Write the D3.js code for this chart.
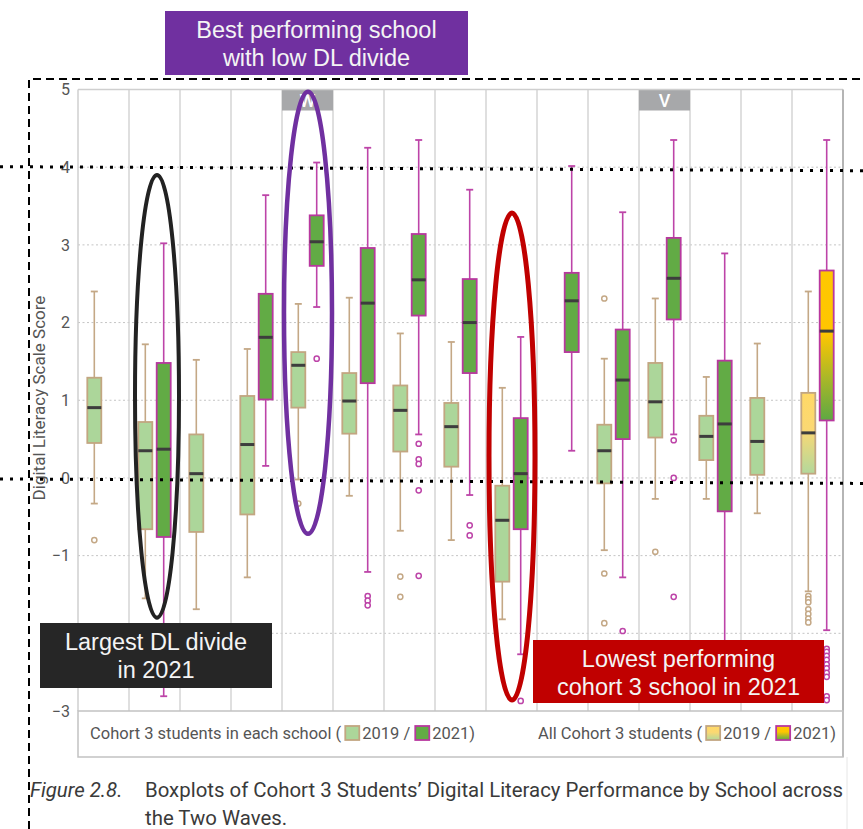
<!DOCTYPE html>
<html>
<head>
<meta charset="utf-8">
<script src="https://cdn.jsdelivr.net/npm/d3@7"></script>
<style>
  html, body { margin: 0; padding: 0; background: #fff; }
  svg { display: block; }
</style>
</head>
<body>
<svg id="chart" width="863" height="829"></svg>
<script>
// ---- Data -------------------------------------------------------------
// One column per school; the last column pools all cohort 3 students.
const schools = ["S01","S02","S03","S04","S05","S06","S07","S08","S09","S10","S11","S12","S13","S14","All"];
const headerLabels = ["","","","","W","","","","","","","V","","",""];
const years = ["2019","2021"];
const yTicks = [-3,-2,-1,0,1,2,3,4,5];

// Box summaries: [lower whisker, Q1, median, Q3, upper whisker]; null = no data
const stats2019 = [
  [-0.33, 0.45, 0.905, 1.29, 2.40],
  [-1.55, -0.66, 0.35, 0.72, 1.72],
  [-1.69, -0.695, 0.055, 0.56, 1.52],
  [-1.28, -0.47, 0.43, 1.055, 1.66],
  [-0.02, 0.905, 1.45, 1.62, 2.24],
  [-0.23, 0.57, 0.99, 1.35, 2.32],
  [-0.68, 0.34, 0.87, 1.19, 1.86],
  [-0.80, 0.145, 0.66, 0.965, 1.75],
  [-1.82, -1.335, -0.545, -0.10, 1.16],
  null,
  [-0.93, -0.07, 0.35, 0.685, 1.535],
  [-0.27, 0.52, 0.98, 1.48, 2.31],
  [-0.27, 0.23, 0.535, 0.80, 1.30],
  [-0.455, 0.04, 0.47, 1.03, 1.73],
  [-1.46, 0.055, 0.58, 1.095, 2.40]
];
const stats2021 = [
  null,
  [-2.81, -0.76, 0.37, 1.48, 3.02],
  null,
  [0.155, 1.01, 1.81, 2.37, 3.64],
  [2.20, 2.73, 3.04, 3.38, 4.06],
  [-1.21, 1.22, 2.25, 2.96, 4.25],
  [0.56, 2.09, 2.55, 3.14, 4.35],
  [-0.22, 1.35, 2.00, 2.56, 3.71],
  [-2.27, -0.66, 0.055, 0.77, 1.815],
  [0.35, 1.62, 2.28, 2.64, 4.015],
  [-1.28, 0.50, 1.26, 1.91, 3.42],
  [0.56, 2.04, 2.57, 3.09, 4.35],
  [-2.45, -0.43, 0.695, 1.51, 2.89],
  null,
  [-1.96, 0.74, 1.89, 2.67, 4.35]
];
const outliers2019 = [
  [-0.80], [], [], [], [-0.33], [], [-1.27, -1.53], [], [], [],
  [2.31, -1.23, -1.87], [-0.95], [], [],
  [-1.52, -1.56, -1.60, -1.69, -1.75, -1.81, -1.86]
];
const outliers2021 = [
  [], [], [], [], [1.535], [-1.52, -1.58, -1.64], [0.44, 0.24, 0.18, -0.16, -1.26],
  [-0.61, -0.74], [-2.87], [], [-1.97], [0.485, 0.0, -1.53], [], [],
  [-2.20, -2.24, -2.29, -2.34, -2.40, -2.45, -2.51, -2.56, -2.81, -2.86]
];

// Highlight rings (in data units) and callout boxes
const rings = [
  { school: "S02", top: 3.90, bottom: -1.80, rx: 22, dx: 2.5, color: "#222222", width: 4 },
  { school: "S05", top: 4.97, bottom: -0.72, rx: 24, dx: 0.5, color: "#7030a0", width: 4.5 },
  { school: "S09", top: 3.41, bottom: -2.86, rx: 23, dx: 0.5, color: "#c00000", width: 5 }
];
const callouts = [
  { x: 165, y: 11, w: 303, h: 64, fill: "#7030a0", lines: ["Best performing school", "with low DL divide"] },
  { x: 40, y: 623, w: 232, h: 65, fill: "#262626", lines: ["Largest DL divide", "in 2021"] },
  { x: 533, y: 640, w: 291, h: 63, fill: "#c00000", lines: ["Lowest performing", "cohort 3 school in 2021"] }
];

// ---- Layout & scales --------------------------------------------------
const svg = d3.select("#chart");
const plot = { left: 78, right: 843, top: 89.5, bottom: 711 };
const x0 = d3.scaleBand().domain(schools).range([plot.left, plot.right]);
const x1 = d3.scalePoint().domain(years).range([0, x0.bandwidth()]).padding(0.886);
const y = d3.scaleLinear().domain([-3, 5]).range([plot.bottom, plot.top]);
const boxW = 14, capW = 7;

const look = {
  "2019": { fill: "#acd69a", stroke: "#c2a681", whisker: "#c4a886" },
  "2021": { fill: "#62ab45", stroke: "#b8389f", whisker: "#bd44a8" }
};

// ---- Gradients for the pooled column ----------------------------------
const defs = svg.append("defs");
function gradient(id, stops) {
  const g = defs.append("linearGradient").attr("id", id)
    .attr("x1", 0).attr("y1", 0).attr("x2", 0).attr("y2", 1);
  stops.forEach(([o, c]) => g.append("stop").attr("offset", o).attr("stop-color", c));
}
gradient("all2019", [[0, "#ffd966"], [0.45, "#fbd873"], [1, "#b3d89c"]]);
gradient("all2021", [[0, "#ffc800"], [0.42, "#ffc600"], [0.72, "#a9b728"], [1, "#5ea843"]]);
const fillFor = (school, yr) => school === "All" ? `url(#all${yr})` : look[yr].fill;

// ---- Grid -------------------------------------------------------------
svg.append("g").selectAll("line")
  .data(yTicks.filter(t => t > -3 && t < 5))
  .join("line")
  .attr("x1", plot.left).attr("x2", plot.right)
  .attr("y1", d => y(d)).attr("y2", d => y(d))
  .attr("stroke", "#c4c4c4").attr("stroke-width", 1)
  .attr("stroke-dasharray", "2,2.5");

svg.append("g").selectAll("line")
  .data(schools.slice(1))
  .join("line")
  .attr("x1", d => x0(d)).attr("x2", d => x0(d))
  .attr("y1", plot.top).attr("y2", plot.bottom)
  .attr("stroke", "#d2d2d2").attr("stroke-width", 1.4);

// Column header tags
const heads = svg.append("g").selectAll("g")
  .data(schools.map((s, i) => ({ s, label: headerLabels[i] })).filter(d => d.label))
  .join("g");
heads.append("rect")
  .attr("x", d => x0(d.s)).attr("y", plot.top)
  .attr("width", x0.bandwidth()).attr("height", 21)
  .attr("fill", "#a7a8aa");
heads.append("text")
  .attr("x", d => x0(d.s) + x0.bandwidth() / 2).attr("y", plot.top + 17)
  .attr("text-anchor", "middle")
  .attr("font-family", "Roboto, sans-serif").attr("font-weight", 500)
  .attr("font-size", 18).attr("fill", "#fff")
  .text(d => d.label);

// ---- Boxes ------------------------------------------------------------
const records = [];
schools.forEach((s, i) => {
  if (stats2019[i]) records.push({ s, yr: "2019", st: stats2019[i], out: outliers2019[i] });
  if (stats2021[i]) records.push({ s, yr: "2021", st: stats2021[i], out: outliers2021[i] });
});

const box = svg.append("g").selectAll("g")
  .data(records)
  .join("g")
  .attr("transform", d => `translate(${x0(d.s) + x1(d.yr)},0)`);

box.append("line")
  .attr("y1", d => y(d.st[0])).attr("y2", d => y(d.st[4]))
  .attr("stroke", d => look[d.yr].whisker).attr("stroke-width", 1.6);
box.selectAll("line.cap")
  .data(d => [d.st[0], d.st[4]].map(v => ({ v, yr: d.yr })))
  .join("line").attr("class", "cap")
  .attr("x1", -capW / 2).attr("x2", capW / 2)
  .attr("y1", d => y(d.v)).attr("y2", d => y(d.v))
  .attr("stroke", d => look[d.yr].whisker).attr("stroke-width", 1.8);
box.append("rect")
  .attr("x", -boxW / 2).attr("width", boxW)
  .attr("y", d => y(d.st[3])).attr("height", d => y(d.st[1]) - y(d.st[3]))
  .attr("fill", d => fillFor(d.s, d.yr))
  .attr("stroke", d => look[d.yr].stroke).attr("stroke-width", 1.8);
box.append("line")
  .attr("x1", -boxW / 2).attr("x2", boxW / 2)
  .attr("y1", d => y(d.st[2])).attr("y2", d => y(d.st[2]))
  .attr("stroke", "#3d3d3d").attr("stroke-width", 3);
box.selectAll("circle")
  .data(d => d.out.map(v => ({ v, yr: d.yr })))
  .join("circle")
  .attr("r", 2.6).attr("cy", d => y(d.v))
  .attr("fill", "#fff")
  .attr("stroke", d => look[d.yr].whisker).attr("stroke-width", 1.5);

// ---- Frame, axis, legend ---------------------------------------------
svg.append("line").attr("x1", plot.left).attr("x2", plot.right)
  .attr("y1", plot.top).attr("y2", plot.top).attr("stroke", "#cfcfcf").attr("stroke-width", 1.5);
svg.append("line").attr("x1", plot.left).attr("x2", plot.left)
  .attr("y1", plot.top).attr("y2", plot.bottom).attr("stroke", "#cfcfcf").attr("stroke-width", 1.5);
svg.append("line").attr("x1", plot.right).attr("x2", plot.right)
  .attr("y1", plot.top).attr("y2", 757).attr("stroke", "#b5b5b5").attr("stroke-width", 2);
svg.append("rect").attr("x", plot.left).attr("y", plot.bottom)
  .attr("width", plot.right - plot.left).attr("height", 46)
  .attr("fill", "none").attr("stroke", "#c2c2c2").attr("stroke-width", 1.5);
svg.append("line").attr("x1", 847).attr("x2", 847)
  .attr("y1", 757).attr("y2", 829).attr("stroke", "#e6e6e6").attr("stroke-width", 1);

const yAxis = svg.append("g")
  .attr("transform", `translate(${plot.left},0)`)
  .call(d3.axisLeft(y).tickValues(yTicks).tickSize(0).tickPadding(8).tickFormat(d3.format("d")));
yAxis.select(".domain").remove();
yAxis.selectAll("text")
  .attr("font-family", "Roboto, sans-serif").attr("font-size", 16).attr("fill", "#555");

svg.append("text")
  .attr("transform", "translate(45,398) rotate(-90)")
  .attr("text-anchor", "middle")
  .attr("font-family", "Roboto, sans-serif").attr("font-size", 17).attr("fill", "#555")
  .text("Digital Literacy Scale Score");

// Legend rows flow left to right; the second group is right-aligned
function legendGroup(items, startX, alignRight) {
  const g = svg.append("g");
  let cx = 0;
  items.forEach(it => {
    if (it.text !== undefined) {
      const t = g.append("text").attr("x", cx).attr("y", 739)
        .attr("font-family", "Roboto, sans-serif").attr("font-size", 16.5).attr("fill", "#555")
        .text(it.text);
      cx += t.node().getComputedTextLength() + (it.gap || 4);
    } else {
      g.append("rect").attr("x", cx).attr("y", 726).attr("width", 14).attr("height", 14)
        .attr("fill", it.fill).attr("stroke", it.stroke).attr("stroke-width", 1.8);
      cx += 14 + 3;
    }
  });
  const w = cx - 4;
  g.attr("transform", `translate(${alignRight ? startX - w : startX},0)`);
}
legendGroup([
  { text: "Cohort 3 students in each school (" },
  { fill: look["2019"].fill, stroke: look["2019"].stroke },
  { text: "2019 /", gap: 5 },
  { fill: look["2021"].fill, stroke: look["2021"].stroke },
  { text: "2021)" }
], 90, false);
legendGroup([
  { text: "All Cohort 3 students (" },
  { fill: "url(#all2019)", stroke: look["2019"].stroke },
  { text: "2019 /", gap: 5 },
  { fill: "url(#all2021)", stroke: look["2021"].stroke },
  { text: "2021)" }
], 836, true);

// Caption
const cap = svg.append("g").attr("font-family", "Roboto, sans-serif")
  .attr("font-size", 20.4).attr("fill", "#3a3a3a");
cap.append("text").attr("x", 30).attr("y", 797).attr("font-style", "italic").text("Figure 2.8.");
cap.append("text").attr("x", 145).attr("y", 797)
  .text("Boxplots of Cohort 3 Students\u2019 Digital Literacy Performance by School across");
cap.append("text").attr("x", 145).attr("y", 825).text("the Two Waves.");

// ---- Annotation layer -------------------------------------------------
const y4 = y(4), y0 = y(0);
svg.append("g").selectAll("line")
  .data([[y4 - 0.5, y4 + 3.5], [y0 + 1, y0 + 5.5]])
  .join("line")
  .attr("x1", 0).attr("x2", 863)
  .attr("y1", d => d[0]).attr("y2", d => d[1])
  .attr("stroke", "#000").attr("stroke-width", 3)
  .attr("stroke-dasharray", "3,7");

svg.append("g").selectAll("ellipse")
  .data(rings)
  .join("ellipse")
  .attr("cx", d => x0(d.school) + x0.bandwidth() / 2 + d.dx)
  .attr("cy", d => (y(d.top) + y(d.bottom)) / 2)
  .attr("rx", d => d.rx)
  .attr("ry", d => (y(d.bottom) - y(d.top)) / 2)
  .attr("fill", "none")
  .attr("stroke", d => d.color).attr("stroke-width", d => d.width);

const co = svg.append("g").selectAll("g").data(callouts).join("g");
co.append("rect")
  .attr("x", d => d.x).attr("y", d => d.y).attr("width", d => d.w).attr("height", d => d.h)
  .attr("fill", d => d.fill);
co.each(function (d) {
  d3.select(this).selectAll("text").data(d.lines).join("text")
    .attr("x", d.x + d.w / 2).attr("y", (l, i) => d.y + 27 + i * 28)
    .attr("text-anchor", "middle")
    .attr("font-family", "'Liberation Sans', Arial, sans-serif")
    .attr("font-size", 23.5).attr("fill", "#f4f4f4")
    .text(l => l);
});

// Dashed outline
svg.append("path")
  .attr("d", "M29,829 V79 H863")
  .attr("fill", "none").attr("stroke", "#000").attr("stroke-width", 2)
  .attr("stroke-dasharray", "8,5");
</script>
</body>
</html>
